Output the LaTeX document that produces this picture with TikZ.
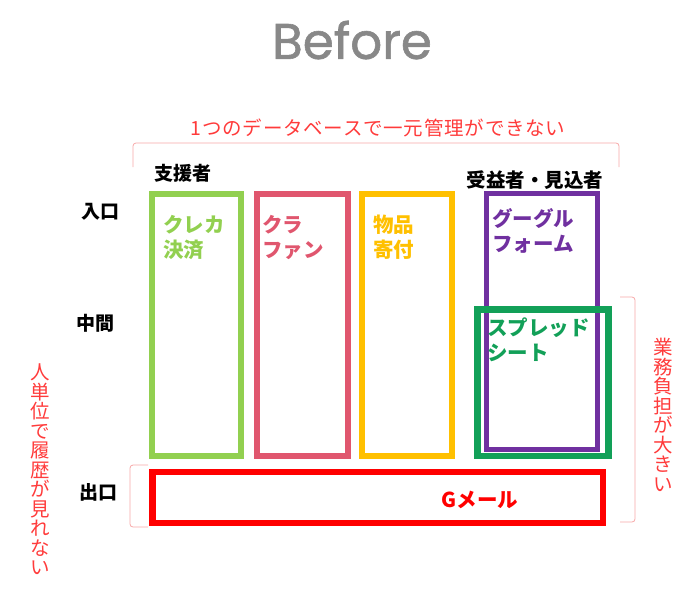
\documentclass[tikz,border=0pt]{standalone}
\usepackage{fontspec}
\setmainfont{Noto Sans CJK JP}
\newfontfamily\titlefont[FakeBold=1.2]{Poppins}
\definecolor{cLime}{HTML}{92D050}
\definecolor{cPink}{HTML}{E0566E}
\definecolor{cGold}{HTML}{FFC000}
\definecolor{cPurple}{HTML}{7030A0}
\definecolor{cTeal}{HTML}{12A058}
\definecolor{cRed}{HTML}{FF0000}
\definecolor{cNote}{HTML}{FF3B3B}
\definecolor{cBrace}{HTML}{F7A8A8}
\definecolor{cTitle}{HTML}{888888}
\tikzset{
  box/.style={draw, line width=6pt, inner sep=0pt, fill=none},
  lbl/.style={font=\fontsize{20.5}{25}\selectfont\bfseries, align=left, inner sep=0pt, anchor=west},
  rowlbl/.style={font=\fontsize{19}{20}\selectfont\bfseries, inner sep=0pt},
  note/.style={font=\fontsize{19.5}{19.5}\selectfont, text=cNote, inner sep=0pt, align=center},
  brace/.style={draw=cBrace, line width=0.8pt, rounded corners=3pt},
}
\begin{document}
\begin{tikzpicture}[x=1pt,y=-1pt]
\useasboundingbox (0,0) rectangle (700,600);
% title
\node[font=\titlefont\fontsize{50}{52}\selectfont, text=cTitle, inner sep=0pt] (title) at (352,40) {Before};
% top note and bracket
\node[note, font=\fontsize{19.5}{19.5}\selectfont\addfontfeatures{LetterSpace=4}] (topnote) at (378,128) {1つのデータベースで一元管理ができない};
\draw[brace] (133,167) -- (133,143) -- (619,143) -- (619,167);
% column headers
\node[rowlbl] (h1) at (183,173) {支援者};
\node[rowlbl, font=\fontsize{19.5}{20}\selectfont\bfseries] (h2) at (535,180) {受益者・見込者};
% row labels
\node[rowlbl] (r1) at (100,212) {入口};
\node[rowlbl] (r2) at (95,323) {中間};
\node[rowlbl] (r3) at (98,492) {出口};
% boxes
\node[box, draw=cLime, minimum width=89pt, minimum height=262pt] (b1) at (196.5,325) {};
\node[box, draw=cPink, minimum width=90.5pt, minimum height=262pt] (b2) at (302.25,325) {};
\node[box, draw=cGold, minimum width=90pt, minimum height=262pt] (b3) at (407,325) {};
\node[box, draw=cPurple, line width=5pt, minimum width=110.5pt, minimum height=256.5pt] (b4) at (541.75,321.25) {};
\node[box, draw=cTeal, line width=6.5pt, minimum width=131pt, minimum height=146.5pt] (b5) at (543,382.75) {};
\node[box, draw=cRed, line width=6.5pt, minimum width=450.5pt, minimum height=51pt] (b6) at (377.75,497.5) {};
% box labels
\node[lbl, text=cLime] (t1) at (163,237.5) {クレカ\\決済};
\node[lbl, text=cPink] (t2) at (262,237.5) {クラ\\ファン};
\node[lbl, text=cGold] (t3) at (373,237.5) {物品\\寄付};
\node[lbl, text=cPurple] (t4) at (492,230.5) {グーグル\\フォーム};
\node[lbl, text=cTeal] (t5) at (487,340) {スプレッド\\シート};
\node[font=\fontsize{20.5}{25}\selectfont\bfseries, text=cRed, inner sep=0pt] (t6) at (480,500) {Gメール};
% left bracket and note
\draw[brace] (148,465) -- (130,465) -- (130,527) -- (148,527);
\node[note] (leftnote) at (40,469.5) {人\\単\\位\\で\\履\\歴\\が\\見\\れ\\な\\い};
% right bracket and note
\draw[brace] (620,297) -- (635,297) -- (635,522) -- (620,522);
\node[note] (rightnote) at (663,415) {業\\務\\負\\担\\が\\大\\き\\い};
\end{tikzpicture}
\end{document}
